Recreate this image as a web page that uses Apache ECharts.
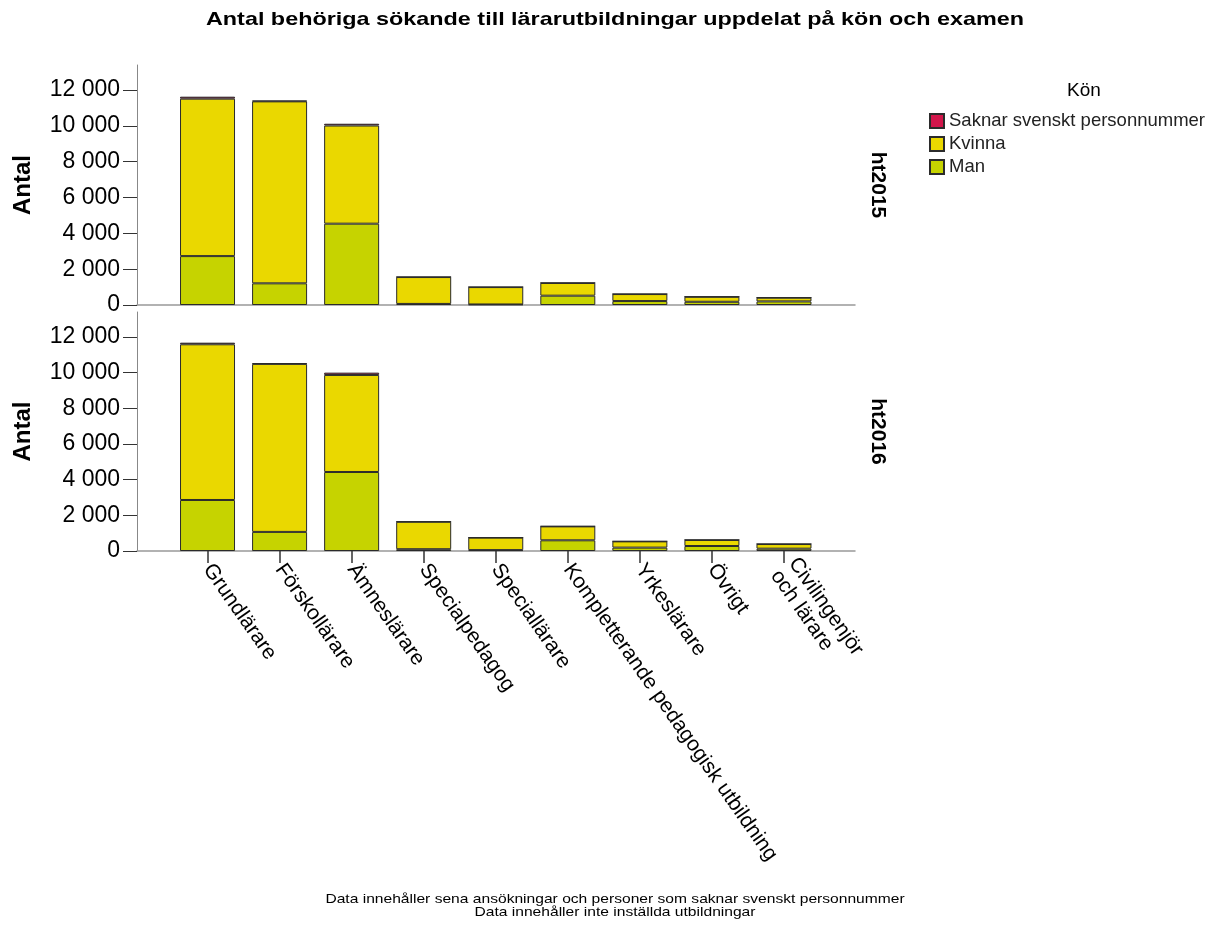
<!DOCTYPE html>
<html>
<head>
<meta charset="utf-8">
<script src="https://cdn.jsdelivr.net/npm/echarts@6/dist/echarts.min.js"></script>
<style>html,body{margin:0;padding:0;background:#fff;}#chart{width:1221px;height:926px;}</style>
</head>
<body>
<div id="chart"></div>
<script>
const categories = ['Grundlärare','Förskollärare','Ämneslärare','Specialpedagog','Speciallärare','Kompletterande pedagogisk utbildning','Yrkeslärare','Övrigt','Civilingenjör\noch lärare'];
const yTicks = [0, 2000, 4000, 6000, 8000, 10000, 12000];
const panels = ['ht2015', 'ht2016'];
const seriesNames = ['Saknar svenskt personnummer', 'Kvinna', 'Man'];

const man2015    = [2730, 1210, 4540, 60, 30, 520, 220, 180, 200];
const kvinna2015 = [8790, 10160, 5480, 1500, 970, 710, 390, 280, 210];
const saknar2015 = [110, 40, 100, 10, 5, 10, 5, 5, 5];

const man2016    = [2860, 1070, 4430, 100, 50, 600, 190, 280, 130];
const kvinna2016 = [8730, 9420, 5440, 1540, 700, 780, 350, 340, 260];
const saknar2016 = [90, 40, 130, 10, 5, 10, 5, 5, 5];

const titleText = 'Antal behöriga sökande till lärarutbildningar uppdelat på kön och examen';
const footnoteLines = ['Data innehåller sena ansökningar och personer som saknar svenskt personnummer', 'Data innehåller inte inställda utbildningar'];

const colors = { 'Saknar svenskt personnummer': '#D2164B', 'Kvinna': '#EAD800', 'Man': '#C6D300' };
const FONT = 'Liberation Sans, Arial, sans-serif';
const fmt = v => String(v).replace(/\B(?=(\d{3})+(?!\d))/g, ' ');

const chart = echarts.init(document.getElementById('chart'), null, { renderer: 'canvas' });

const barGridLeft = 171.5, barGridRight = 401;
const lineGridLeft = 137, lineGridRight = 366;
const panelTops = [65, 312];
const panelHeights = [240, 239];

const grids = [];
const xAxes = [];
const yAxes = [];
for (let p = 0; p < 2; p++) {
  grids.push({ left: barGridLeft, right: barGridRight, top: panelTops[p], height: panelHeights[p] });
}
for (let p = 0; p < 2; p++) {
  grids.push({ left: lineGridLeft, right: lineGridRight, top: panelTops[p], height: panelHeights[p] });
}
for (let p = 0; p < 2; p++) {
  const isBottom = p === 1;
  xAxes.push({
    type: 'category', gridIndex: p, data: categories,
    axisLine: { show: false },
    axisTick: { show: isBottom, alignWithLabel: true, length: 12, lineStyle: { color: '#333', width: 1.5 } },
    axisLabel: {
      show: isBottom, rotate: -55, interval: 0, margin: 15,
      fontFamily: FONT, fontSize: 21, color: '#000', lineHeight: 22
    },
    splitLine: { show: false }
  });
  yAxes.push({
    type: 'value', gridIndex: p, min: 0, max: 13400, interval: 2000,
    position: 'left', offset: barGridLeft - lineGridLeft,
    name: 'Antal', nameLocation: 'middle', nameGap: 102,
    nameTextStyle: { fontFamily: FONT, fontSize: 24, fontWeight: 'bold', color: '#000' },
    axisLine: { show: true, lineStyle: { color: '#888', width: 1 } },
    axisTick: { show: true, length: 14, customValues: yTicks, lineStyle: { color: '#333' } },
    axisLabel: { customValues: yTicks, formatter: fmt, fontFamily: FONT, fontSize: 23, color: '#000', margin: 17 },
    splitLine: { show: false }
  });
}
for (let p = 0; p < 2; p++) {
  xAxes.push({
    type: 'category', gridIndex: 2 + p, data: [''],
    axisLine: { show: true, onZero: false, lineStyle: { color: '#999', width: 1.5 } },
    axisTick: { show: false }, axisLabel: { show: false }, splitLine: { show: false }
  });
  yAxes.push({
    type: 'value', gridIndex: 2 + p, min: 0, max: 1, position: 'right',
    name: panels[p], nameLocation: 'middle', nameGap: 12, nameRotate: -90,
    nameTextStyle: { fontFamily: FONT, fontSize: 21, fontWeight: 'bold', color: '#000' },
    axisLine: { show: false }, axisTick: { show: false }, axisLabel: { show: false }, splitLine: { show: false }
  });
}

const panelData = [
  { 'Man': man2015, 'Kvinna': kvinna2015, 'Saknar svenskt personnummer': saknar2015 },
  { 'Man': man2016, 'Kvinna': kvinna2016, 'Saknar svenskt personnummer': saknar2016 }
];
const stackOrder = ['Man', 'Kvinna', 'Saknar svenskt personnummer'];
const series = [];
for (let p = 0; p < 2; p++) {
  stackOrder.forEach(name => {
    series.push({
      type: 'bar', name: name, xAxisIndex: p, yAxisIndex: p, stack: 'panel' + p,
      data: panelData[p][name], barWidth: 55,
      itemStyle: { color: colors[name], borderColor: '#2b2b2b', borderWidth: 1 },
      emphasis: { disabled: true }
    });
  });
}

chart.setOption({
  backgroundColor: '#fff',
  animation: false,
  title: [
    { text: 'Kön', left: 1062, top: 76, textStyle: { fontFamily: FONT, fontSize: 19, fontWeight: 'normal', color: '#000' } }
  ],
  graphic: [
    { type: 'text', x: 615, y: 20, scaleX: 1.23, silent: true,
      style: { text: titleText, fontFamily: FONT, fontSize: 19, fontWeight: 'bold', fill: '#000', align: 'center', verticalAlign: 'middle' } },
    { type: 'text', x: 615, y: 899, scaleX: 1.2, silent: true,
      style: { text: footnoteLines[0], fontFamily: FONT, fontSize: 13, fill: '#000', align: 'center', verticalAlign: 'middle' } },
    { type: 'text', x: 615, y: 912, scaleX: 1.2, silent: true,
      style: { text: footnoteLines[1], fontFamily: FONT, fontSize: 13, fill: '#000', align: 'center', verticalAlign: 'middle' } }
  ],
  legend: {
    data: seriesNames, orient: 'vertical', left: 924, top: 106,
    icon: 'rect', itemWidth: 14, itemHeight: 14, itemGap: 3,
    textStyle: { fontFamily: FONT, fontSize: 18.5, color: '#222', lineHeight: 20 },
    selectedMode: false
  },
  grid: grids, xAxis: xAxes, yAxis: yAxes, series: series
});
</script>
</body>
</html>
